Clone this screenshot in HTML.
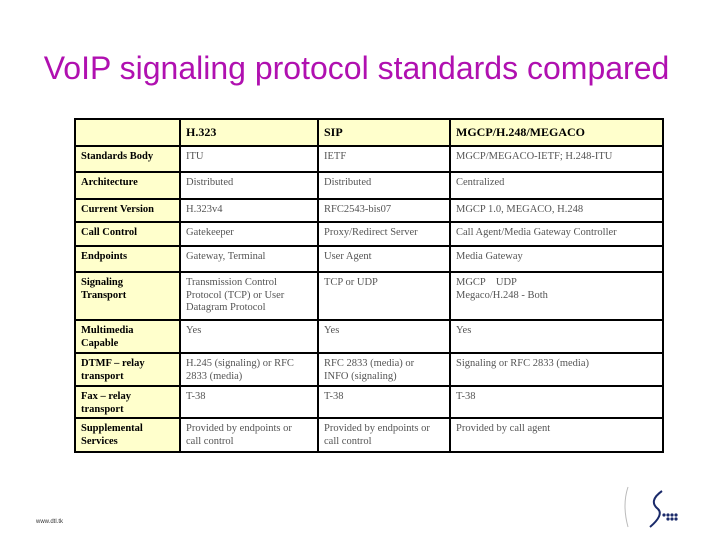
<!DOCTYPE html>
<html><head><meta charset="utf-8"><style>
body{margin:0;width:720px;height:540px;background:#fff;position:relative;overflow:hidden;font-family:"Liberation Serif",serif}
h1{position:absolute;left:0;width:713px;top:50px;margin:0;text-align:center;font:32px "Liberation Sans",sans-serif;color:#b010b0;white-space:nowrap}
#tbl{position:absolute;left:74px;top:118px;width:590px;height:335px;border:2px solid #000;box-sizing:border-box;background:#000;overflow:hidden}
.c{position:absolute;box-sizing:border-box;padding:4px 12px 4px 5px;font-size:10.5px;line-height:12.5px;color:#555;background:#fff}
.h{background:#ffffcc;color:#000;font-weight:bold}
.hd{font-size:12px;padding-top:6px}
</style></head><body>
<h1>VoIP signaling protocol standards compared</h1>
<div id="tbl"></div>
<div style="position:absolute;left:36px;top:519px;font:6px 'Liberation Sans',sans-serif;color:#333">www.dtl.tk</div>
<svg style="position:absolute;left:620px;top:485px" width="60" height="45">
<path d="M8 2 Q2 20 8 42" stroke="#bbb" fill="none"/>
<path d="M42 6 Q28 16 38 24 Q44 30 30 42" stroke="#1a2a6a" stroke-width="2" fill="none"/>
<g fill="#1a2a6a"><circle cx="44" cy="30" r="1.6"/><circle cx="48" cy="30" r="1.6"/><circle cx="52" cy="30" r="1.6"/><circle cx="56" cy="30" r="1.6"/><circle cx="48" cy="34" r="1.6"/><circle cx="52" cy="34" r="1.6"/><circle cx="56" cy="34" r="1.6"/></g>
</svg>
<script>
const cols=[0,104,242,374,587];
const rows=[0,26,52,79,102,126,152,200,233,266,298,332];
const data=[
["","H.323","SIP","MGCP/H.248/MEGACO"],
["Standards Body","ITU","IETF","MGCP/MEGACO-IETF; H.248-ITU"],
["Architecture","Distributed","Distributed","Centralized"],
["Current Version","H.323v4","RFC2543-bis07","MGCP 1.0, MEGACO, H.248"],
["Call Control","Gatekeeper","Proxy/Redirect Server","Call Agent/Media Gateway Controller"],
["Endpoints","Gateway, Terminal","User Agent","Media Gateway"],
["Signaling<br>Transport","Transmission Control Protocol (TCP) or User Datagram Protocol","TCP or UDP","MGCP &nbsp;&nbsp; UDP<br>Megaco/H.248 - Both"],
["Multimedia<br>Capable","Yes","Yes","Yes"],
["DTMF – relay<br>transport","H.245 (signaling) or RFC 2833 (media)","RFC 2833 (media) or<br>INFO (signaling)","Signaling or RFC 2833 (media)"],
["Fax – relay<br>transport","T-38","T-38","T-38"],
["Supplemental<br>Services","Provided by endpoints or<br>call control","Provided by endpoints or<br>call control","Provided by call agent"]];
const t=document.getElementById('tbl');
data.forEach((r,i)=>r.forEach((v,j)=>{
const d=document.createElement('div');


d.className='c'+((i==0||j==0)?' h':'')+(i==0?' hd':'');
const x0=cols[j]+(j?1:0),x1=(j==3?cols[j+1]:cols[j+1]-1),y0=rows[i]+(i?1:0),y1=(i==10?rows[i+1]:rows[i+1]-1);
d.style.left=x0+'px';d.style.top=y0+'px';d.style.width=(x1-x0)+'px';d.style.height=(y1-y0)+'px';
d.innerHTML=v;t.appendChild(d);}));
</script>
</body></html>
